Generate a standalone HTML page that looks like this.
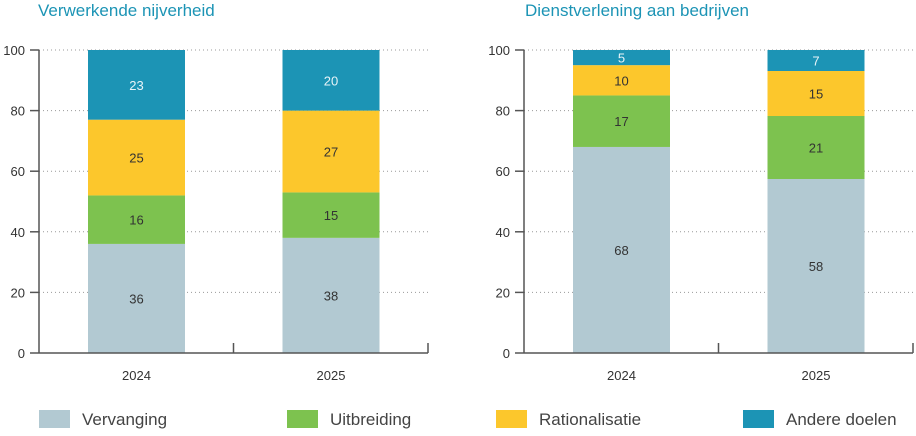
<!DOCTYPE html>
<html><head><meta charset="utf-8"><style>
body{margin:0;background:#fff;font-family:"Liberation Sans",sans-serif;}
svg{display:block}
</style></head><body>
<svg id="c" width="916" height="436" xmlns="http://www.w3.org/2000/svg"></svg>
<script>
const categories=["2024","2025"];
const seriesNames=["Vervanging","Uitbreiding","Rationalisatie","Andere doelen"];
const colors=["#b2c9d2","#7dc24f","#fcc72c","#1c94b5"];
const textColors=["#333","#333","#333","#e8f4f8"];
const panelTitles=["Verwerkende nijverheid","Dienstverlening aan bedrijven"];
const p1Vervanging=[36,38],p1Uitbreiding=[16,15],p1Rationalisatie=[25,27],p1Andere=[23,20];
const p2Vervanging=[68,58],p2Uitbreiding=[17,21],p2Rationalisatie=[10,15],p2Andere=[5,7];
const yTicks=[0,20,40,60,80,100];
const panels=[[p1Vervanging,p1Uitbreiding,p1Rationalisatie,p1Andere],[p2Vervanging,p2Uitbreiding,p2Rationalisatie,p2Andere]];
const svg=document.getElementById('c');const NS="http://www.w3.org/2000/svg";
function mk(t,a,parent){const e=document.createElementNS(NS,t);for(const k in a)e.setAttribute(k,a[k]);(parent||svg).appendChild(e);return e;}
const y0=353,y1=50;
const y=v=>y0-(v/100)*(y0-y1);
const panelX=[39,524];
panels.forEach((data,pi)=>{
  const ax=panelX[pi],w=389;
  const g=mk('g',{});
  
  
  const t=mk('text',{x:ax+(pi?1:-1),y:16,fill:'#1c94b5','font-size':17},g);t.textContent=panelTitles[pi];
  
  
  yTicks.forEach(v=>{
    if(v>0){const gl=mk('line',{x1:ax,x2:ax+w,y1:y(v),y2:y(v),stroke:'#999','stroke-dasharray':'1 3','stroke-width':1},g);
    }
    mk('line',{x1:ax-9,x2:ax,y1:y(v),y2:y(v),stroke:'#555','stroke-width':1.5},g);
    const tl=mk('text',{x:ax-14,y:y(v)+5,'text-anchor':'end','font-size':13,fill:'#333'},g);tl.textContent=v;
    
  });
  const band=w/categories.length;
  categories.forEach((c,ci)=>{
    const bx=ax+band*ci+49,bw=97;
    const total=data.reduce((s,arr)=>s+arr[ci],0);
    const k=100/total;
    let cum=0;
    data.forEach((s,si)=>{
      const v=s[ci];
      const a=cum*k,b=(cum+v)*k;
      const r=mk('rect',{x:bx,y:y(b),width:bw,height:y(a)-y(b),fill:colors[si]},g);
      
      
      const l=mk('text',{x:bx+bw/2,y:(y(a)+y(b))/2+5,'text-anchor':'middle','font-size':13,fill:textColors[si]},g);l.textContent=v;
      
      cum+=v;
    });
    const xl=mk('text',{x:bx+bw/2,y:380,'text-anchor':'middle','font-size':13,fill:'#333'},g);xl.textContent=c;
    
    mk('line',{x1:ax+band*(ci+1),x2:ax+band*(ci+1),y1:y0-10,y2:y0,stroke:'#555','stroke-width':1.5},g);
  });
  mk('line',{x1:ax,x2:ax,y1:y1,y2:y0,stroke:'#555','stroke-width':1.5},g);
  mk('line',{x1:ax,x2:ax+w,y1:y0,y2:y0,stroke:'#555','stroke-width':1.5},g);
});
const legX=[39,287,496,743];
seriesNames.forEach((n,i)=>{
  const g=mk('g',{});
  
  
  mk('rect',{x:legX[i],y:410,width:31,height:18,fill:colors[i]},g);
  const t=mk('text',{x:legX[i]+43,y:425,'font-size':17,fill:'#444'},g);t.textContent=n;
});
</script>
</body></html>
